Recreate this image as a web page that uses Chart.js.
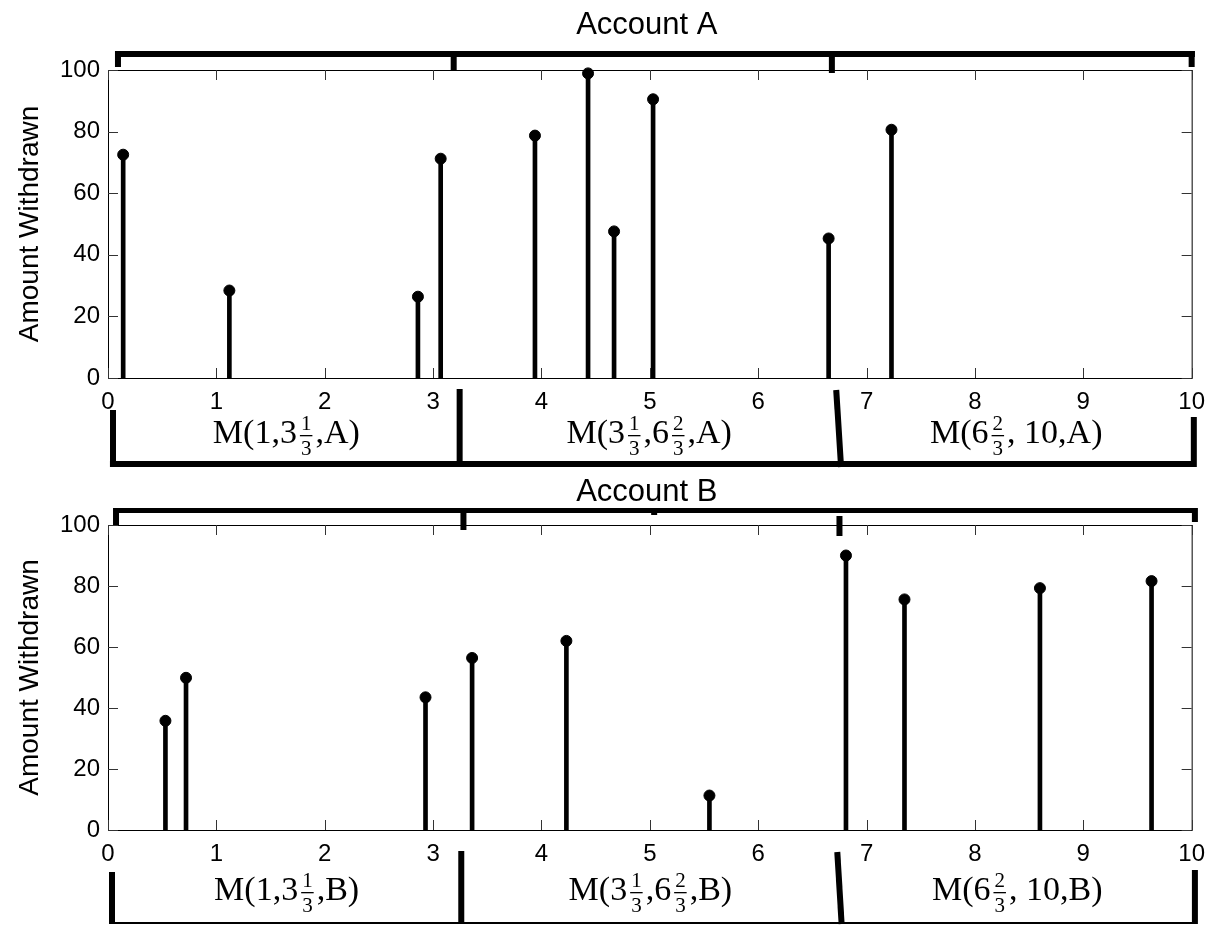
<!DOCTYPE html>
<html>
<head>
<meta charset="utf-8">
<script src="https://cdn.jsdelivr.net/npm/chart.js@4.4.1/dist/chart.umd.min.js"></script>
<style>
  body { margin: 0; background: #fff; }
  #wrap { position: relative; width: 1215px; height: 925px; }
  canvas { position: absolute; left: 0; }
</style>
</head>
<body>
<div id="wrap">
  <canvas id="contaA" width="1215" height="470" style="top:0px"></canvas>
  <canvas id="contaB" width="1215" height="455" style="top:470px"></canvas>
</div>
<script>
// dados
const tempoA = [0.14, 1.12, 2.86, 3.07, 3.94, 4.43, 4.67, 5.03, 6.65, 7.23]
const valorA = [72.5, 28.4, 26.4, 71.2, 78.7, 98.9, 47.6, 90.5, 45.3, 80.6]

const tempoB = [0.53, 0.72, 2.93, 3.36, 4.23, 5.55, 6.81, 7.35, 8.60, 9.63]
const valorB = [35.8, 49.9, 43.5, 56.4, 62.0, 11.3, 90.0, 75.6, 79.3, 81.6]

const ticksX = [0, 1, 2, 3, 4, 5, 6, 7, 8, 9, 10]
const ticksY = [0, 20, 40, 60, 80, 100]

const rotulosA = ["M(1,3[1/3],A)", "M(3[1/3],6[2/3],A)", "M(6[2/3], 10,A)"]
const rotulosB = ["M(1,3[1/3],B)", "M(3[1/3],6[2/3],B)", "M(6[2/3], 10,B)"]

const fonteSans = '"Liberation Sans", Arial, Helvetica, sans-serif'
const fonteSerif = '"Liberation Serif", "Times New Roman", serif'

Chart.defaults.font.family = fonteSans
Chart.defaults.color = '#000'

// colchetes (x em unidades do eixo, y em px relativo a area do grafico)
const colchetesA = {
    topo: { y: -16, esp: 6, de: 0.065, ate: 10.03,
            gotas: [[0.092, -3], [3.19, 0], [6.68, 3], [10.0, -3]], soltas: [] },
    baixo: { y: 86, esp: 6, de: 0.018, ate: 10.04,
             verticais: [[0.046, 0.046, 32], [3.245, 3.245, 11], [6.72, 6.765, 12], [10.02, 10.02, 39]] },
    baseRotulo: 65
}
const colchetesB = {
    topo: { y: -14.5, esp: 5, de: 0.065, ate: 10.04,
            gotas: [[0.074, 0], [3.28, 5], [10.03, -3]], soltas: [[5.04, -12, -10], [6.75, -9, 11]] },
    baixo: { y: 93, esp: 2, de: 0.018, ate: 10.04,
             verticais: [[0.037, 0.037, 42], [3.26, 3.26, 21], [6.73, 6.77, 22], [10.03, 10.03, 40]] },
    baseRotulo: 70
}

// desenha texto com fracao empilhada tipo latex
function desenharRotulo(ctx, texto, cx, base) {
    let pedacos = texto.split(/\[(\d)\/(\d)\]/)
    let itens = []
    for (let i = 0; i < pedacos.length; i += 3) {
        if (pedacos[i]) itens.push({ t: pedacos[i] })
        if (i + 1 < pedacos.length) itens.push({ n: pedacos[i + 1], d: pedacos[i + 2] })
    }
    let largura = 0
    itens.forEach(it => {
        if (it.t !== undefined) {
            ctx.font = '34px ' + fonteSerif
            it.w = ctx.measureText(it.t).width
        } else {
            ctx.font = '21px ' + fonteSerif
            it.w = Math.max(ctx.measureText(it.n).width, ctx.measureText(it.d).width) + 8
        }
        largura += it.w
    })
    let x = cx - largura / 2
    ctx.fillStyle = '#000'
    ctx.textAlign = 'left'
    ctx.textBaseline = 'alphabetic'
    itens.forEach(it => {
        if (it.t !== undefined) {
            ctx.font = '34px ' + fonteSerif
            ctx.fillText(it.t, x, base)
        } else {
            ctx.font = '21px ' + fonteSerif
            ctx.textAlign = 'center'
            ctx.fillText(it.n, x + it.w / 2, base - 13)
            ctx.fillText(it.d, x + it.w / 2, base + 12)
            ctx.fillRect(x + 3, base - 8, it.w - 6, 1.3)
            ctx.textAlign = 'left'
        }
        x += it.w
    })
}

const pluginExtras = {
    id: 'extras',
    afterDraw(chart, args, opts) {
        const ctx = chart.ctx
        const area = chart.chartArea
        const sx = chart.scales.x
        const sy = chart.scales.y
        ctx.save()

        // titulo
        ctx.fillStyle = '#000'
        ctx.font = '31px ' + fonteSans
        ctx.textAlign = 'center'
        ctx.textBaseline = 'middle'
        ctx.fillText(opts.titulo, (area.left + area.right) / 2 - 3, opts.tituloY)

        // caixa e ticks para dentro
        ctx.strokeStyle = '#000'
        ctx.lineWidth = 1
        ctx.strokeRect(area.left + 0.5, area.top + 0.5, area.right - area.left, area.bottom - area.top)
        ctx.strokeStyle = '#333'
        ctx.beginPath()
        sx.ticks.forEach(t => {
            let px = Math.round(sx.getPixelForValue(t.value)) + 0.5
            ctx.moveTo(px, area.bottom); ctx.lineTo(px, area.bottom - 10)
            ctx.moveTo(px, area.top); ctx.lineTo(px, area.top + 10)
        })
        sy.ticks.forEach(t => {
            let py = Math.round(sy.getPixelForValue(t.value)) + 0.5
            ctx.moveTo(area.left, py); ctx.lineTo(area.left + 10, py)
            ctx.moveTo(area.right, py); ctx.lineTo(area.right - 10, py)
        })
        ctx.stroke()

        // colchete de cima
        const c = opts.colchetes
        ctx.fillStyle = '#000'
        let yTopo = area.top + c.topo.y
        let x0 = sx.getPixelForValue(c.topo.de), x1 = sx.getPixelForValue(c.topo.ate)
        ctx.fillRect(x0, yTopo - c.topo.esp / 2, x1 - x0, c.topo.esp)
        c.topo.gotas.forEach(g => {
            let gx = sx.getPixelForValue(g[0])
            ctx.fillRect(gx - 3, yTopo - c.topo.esp / 2, 6, area.top + g[1] - (yTopo - c.topo.esp / 2))
        })
        c.topo.soltas.forEach(g => {
            let gx = sx.getPixelForValue(g[0])
            ctx.fillRect(gx - 3, area.top + g[1], 6, g[2] - g[1])
        })

        // colchete de baixo
        let yBaixo = area.bottom + c.baixo.y
        x0 = sx.getPixelForValue(c.baixo.de); x1 = sx.getPixelForValue(c.baixo.ate)
        ctx.fillRect(x0, yBaixo - c.baixo.esp / 2, x1 - x0, c.baixo.esp)
        ctx.strokeStyle = '#000'
        ctx.lineWidth = 6
        ctx.lineCap = 'butt'
        let meios = []
        c.baixo.verticais.forEach(v => {
            let xa = sx.getPixelForValue(v[0]), xb = sx.getPixelForValue(v[1])
            ctx.beginPath()
            ctx.moveTo(xa, area.bottom + v[2])
            ctx.lineTo(xb, yBaixo + c.baixo.esp / 2)
            ctx.stroke()
            meios.push((xa + xb) / 2)
        })

        // rotulos M(...)
        for (let i = 0; i < opts.rotulos.length; i++) {
            let cx = (meios[i] + meios[i + 1]) / 2
            desenharRotulo(ctx, opts.rotulos[i], cx, area.bottom + c.baseRotulo)
        }
        ctx.restore()
    }
}

function criarGrafico(id, tempos, valores, titulo, tituloY, rotulos, colchetes, topo, alturaEixoX) {
    let pontos = tempos.map((t, i) => ({ x: t, y: valores[i] }))

    new Chart(document.getElementById(id), {
        type: 'bar',
        data: {
            datasets: [
                {
                    type: 'bar',
                    data: pontos,
                    backgroundColor: '#000',
                    barThickness: 4,
                    clip: false
                },
                {
                    type: 'scatter',
                    data: pontos,
                    backgroundColor: '#000',
                    borderColor: '#000',
                    pointRadius: 5.5,
                    clip: false
                }
            ]
        },
        options: {
            responsive: false,
            animation: false,
            devicePixelRatio: 1,
            layout: { padding: { top: topo, right: 22, left: 0, bottom: 0 } },
            plugins: {
                legend: { display: false },
                tooltip: { enabled: false },
                extras: { titulo: titulo, tituloY: tituloY, rotulos: rotulos, colchetes: colchetes }
            },
            scales: {
                x: {
                    type: 'linear',
                    min: 0, max: 10,
                    offset: false,
                    grid: { display: false, drawTicks: false, offset: false },
                    border: { display: false },
                    afterBuildTicks: s => { s.ticks = ticksX.map(v => ({ value: v })) },
                    afterFit: s => { s.height = alturaEixoX },
                    ticks: { font: { size: 24 }, padding: 10, maxRotation: 0, autoSkip: false, color: '#000' }
                },
                y: {
                    min: 0, max: 100,
                    grid: { display: false, drawTicks: false },
                    border: { display: false },
                    afterBuildTicks: s => { s.ticks = ticksY.map(v => ({ value: v })) },
                    afterFit: s => { s.width = 108 },
                    ticks: { font: { size: 24 }, padding: 8, color: '#000' },
                    title: { display: true, text: 'Amount Withdrawn', font: { size: 28 }, padding: { top: 13, bottom: 0 }, color: '#000' }
                }
            }
        },
        plugins: [pluginExtras]
    })
}

criarGrafico('contaA', tempoA, valorA, 'Account A', 25, rotulosA, colchetesA, 70, 92)
criarGrafico('contaB', tempoB, valorB, 'Account B', 22, rotulosB, colchetesB, 55, 95)
</script>
</body>
</html>
